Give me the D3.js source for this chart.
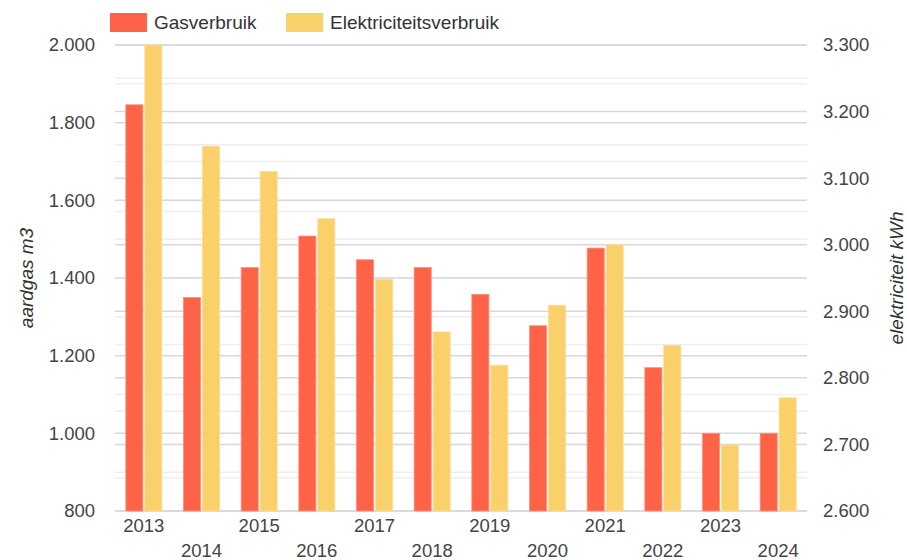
<!DOCTYPE html>
<html>
<head>
<meta charset="utf-8">
<script src="https://cdn.jsdelivr.net/npm/d3@7"></script>
<style>
  body { margin: 0; background: #fff; }
  svg { font-family: "Liberation Sans", Arial, sans-serif; }
  .tick text { fill: #444; font-size: 18.5px; }
</style>
</head>
<body>
<script>
// data
let years = ["2013", "2014", "2015", "2016", "2017", "2018", "2019", "2020", "2021", "2022", "2023", "2024"];
let gas = [1846, 1350, 1427, 1508, 1447, 1427, 1358, 1277, 1477, 1169, 1000, 1000];
let elec = [3300, 3148, 3110, 3039, 2948, 2869, 2819, 2909, 3000, 2849, 2699, 2770];
let seriesNames = ["Gasverbruik", "Elektriciteitsverbruik"];
let seriesColors = ["#ff6347", "#fad06b"];
let gasTicks = [800, 1000, 1200, 1400, 1600, 1800, 2000];
let gasMinor = [900, 1100, 1300, 1500, 1700, 1900];
let elecTicks = [2600, 2700, 2800, 2900, 3000, 3100, 3200, 3300];
let elecMinor = [2650, 2750, 2850, 2950, 3050, 3150, 3250];

let width = 907,
  height = 560;
let margin = { top: 45, right: 100, bottom: 49, left: 115 };

window.onload = function () {
  let svg = d3.select("body")
    .append("svg")
    .attr("width", width)
    .attr("height", height);

  let nl = d3.formatLocale({ decimal: ",", thousands: ".", grouping: [3], currency: ["€", ""] });
  let fmt = nl.format(",d");

  let x = d3.scaleBand()
    .domain(years)
    .range([margin.left, width - margin.right])
    .paddingInner(0.376)
    .paddingOuter(0.188);

  let xs = d3.scaleBand()
    .domain([0, 1])
    .range([0, x.bandwidth()])
    .paddingInner(0.1);

  let yGas = d3.scaleLinear()
    .domain([800, 2000])
    .range([height - margin.bottom, margin.top]);

  let yElec = d3.scaleLinear()
    .domain([2600, 3300])
    .range([height - margin.bottom, margin.top]);

  let x0 = margin.left, x1 = width - margin.right;

  // gridlines: minor first, then major
  let grid = svg.append("g").attr("class", "grid");
  grid.selectAll(".gminor")
    .data(gasMinor.map(yGas).concat(elecMinor.map(yElec)))
    .join("line")
    .attr("x1", x0).attr("x2", x1)
    .attr("y1", d => d).attr("y2", d => d)
    .attr("stroke", "#eeeeee")
    .attr("stroke-width", 1.5);
  grid.selectAll(".gmajor")
    .data(gasTicks.map(yGas).concat(elecTicks.map(yElec)))
    .join("line")
    .attr("x1", x0).attr("x2", x1)
    .attr("y1", d => d).attr("y2", d => d)
    .attr("stroke", "#d8d8d8")
    .attr("stroke-width", 1.5);

  // bars
  let g = svg.append("g");
  g.selectAll(".gas")
    .data(years)
    .join("rect")
    .attr("x", (d) => x(d) + xs(0))
    .attr("width", xs.bandwidth())
    .attr("y", (d, i) => yGas(gas[i]))
    .attr("height", (d, i) => yGas(800) - yGas(gas[i]))
    .attr("fill", seriesColors[0])
    .attr("stroke", "#ff8c78")
    .attr("stroke-width", 0.8);
  g.selectAll(".elec")
    .data(years)
    .join("rect")
    .attr("x", (d) => x(d) + xs(1))
    .attr("width", xs.bandwidth())
    .attr("y", (d, i) => yElec(elec[i]))
    .attr("height", (d, i) => yElec(2600) - yElec(elec[i]))
    .attr("fill", seriesColors[1])
    .attr("stroke", "#fcdc8f")
    .attr("stroke-width", 0.8);

  // left axis
  svg.append("g")
    .attr("transform", "translate(" + (x0 - 4) + ",0)")
    .call(d3.axisLeft(yGas).tickValues(gasTicks).tickFormat(fmt).tickSize(0).tickPadding(16))
    .call(a => a.select(".domain").remove());

  // right axis
  svg.append("g")
    .attr("transform", "translate(" + (x1 + 2) + ",0)")
    .call(d3.axisRight(yElec).tickValues(elecTicks).tickFormat(fmt).tickSize(0).tickPadding(14))
    .call(a => a.select(".domain").remove());

  // x axis, two staggered rows
  svg.append("g")
    .attr("transform", "translate(0," + (height - margin.bottom) + ")")
    .call(d3.axisBottom(x).tickSize(0).tickPadding(8))
    .call(a => a.select(".domain").remove())
    .call(a => a.selectAll(".tick text")
      .attr("dy", (d, i) => i % 2 === 0 ? "0.71em" : "2.05em"));

  // axis titles
  svg.append("text")
    .attr("transform", "translate(33," + ((margin.top + height - margin.bottom) / 2) + ") rotate(-90)")
    .attr("text-anchor", "middle")
    .attr("font-style", "italic")
    .attr("font-size", "19px")
    .attr("fill", "#333")
    .text("aardgas m3");
  svg.append("text")
    .attr("transform", "translate(903," + ((margin.top + height - margin.bottom) / 2) + ") rotate(-90)")
    .attr("text-anchor", "middle")
    .attr("font-style", "italic")
    .attr("font-size", "19px")
    .attr("fill", "#333")
    .text("elektriciteit kWh");

  // legend
  let legend = svg.append("g");
  let legX = [110, 286];
  seriesNames.forEach((name, i) => {
    legend.append("rect")
      .attr("x", legX[i]).attr("y", 13)
      .attr("width", 37).attr("height", 19)
      .attr("fill", seriesColors[i]);
    legend.append("text")
      .attr("x", legX[i] + 44).attr("y", 22.5)
      .attr("dy", "0.35em")
      .attr("font-size", "19px")
      .attr("fill", "#333")
      .text(name);
  });
}
</script>
</body>
</html>
